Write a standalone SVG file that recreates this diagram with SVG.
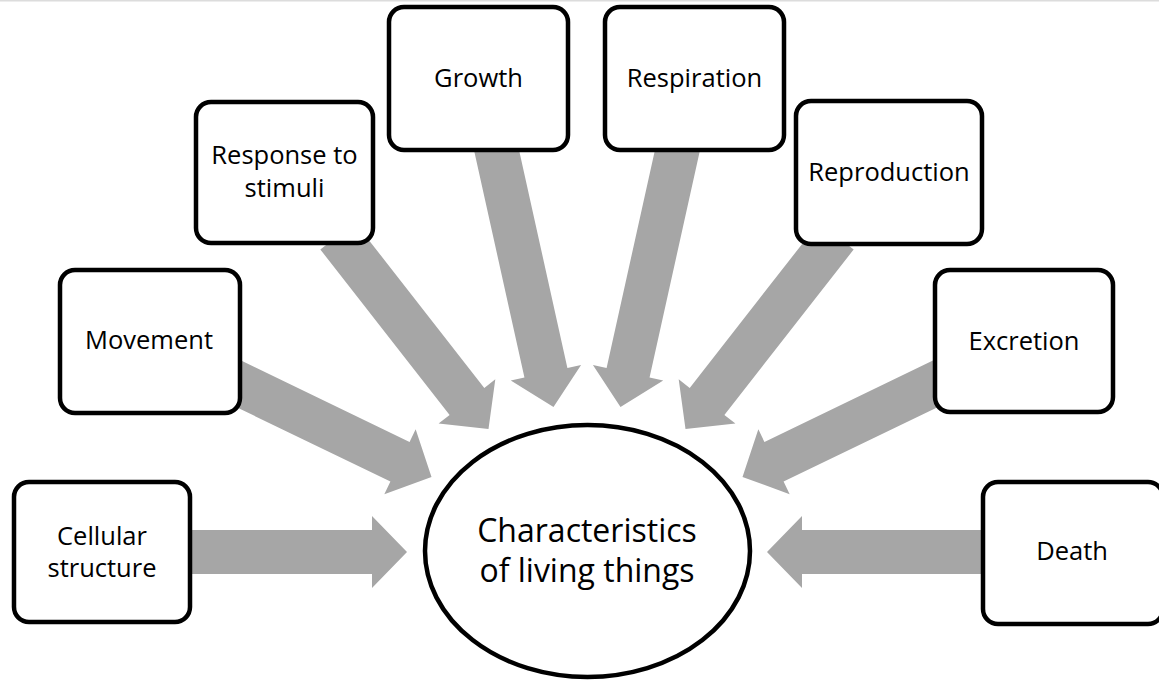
<svg xmlns="http://www.w3.org/2000/svg" width="1159" height="681" viewBox="0 0 1159 681">
<style>
.box{fill:#fff;stroke:#000;stroke-width:4.5}
.arrow{fill:#A6A6A6}
.lbl{font-family:"Open Sans","Noto Sans","Liberation Sans",sans-serif;font-size:25.5px;fill:#000;text-anchor:middle}
.ctr{font-family:"Open Sans","Noto Sans","Liberation Sans",sans-serif;font-size:32px;fill:#000;text-anchor:middle}
</style>
<defs>
<polygon id="arr" points="0,0 -35,-36 -35,-22 -270,-22 -270,22 -35,22 -35,36"/>
<polygon id="arrS" points="0,0 -35,-36 -35,-22 -225,-22 -225,22 -35,22 -35,36"/>
<polygon id="arrM" points="0,0 -35,-36 -35,-22 -245,-22 -245,22 -35,22 -35,36"/>
</defs>
<rect x="0" y="0" width="1159" height="681" fill="#fff"/>
<rect x="0" y="0" width="1159" height="1.5" fill="#dcdcdc"/>
<g id="connectors" class="arrow">
<use href="#arrS" transform="translate(407,552)"/>
<use href="#arrS" transform="translate(431.5,477) rotate(25.8)"/>
<use href="#arrM" transform="translate(488.5,429) rotate(52)"/>
<use href="#arr" transform="translate(553.5,407) rotate(77.5)"/>
<use href="#arr" transform="translate(620.5,407) rotate(102.5)"/>
<use href="#arrM" transform="translate(685.5,429) rotate(128)"/>
<use href="#arrS" transform="translate(742.5,477) rotate(154.2)"/>
<use href="#arrS" transform="translate(767,552) rotate(180)"/>
</g>
<g id="node-cellular">
<rect class="box" x="14" y="482" width="176" height="140" rx="15"/>
<text class="lbl" x="102" y="545">Cellular</text>
<text class="lbl" x="102" y="577">structure</text>
</g>
<g id="node-movement">
<rect class="box" x="60" y="270" width="180" height="143" rx="15"/>
<text class="lbl" x="149" y="349">Movement</text>
</g>
<g id="node-response">
<rect class="box" x="196" y="102" width="177" height="141" rx="15"/>
<text class="lbl" x="284.5" y="164">Response to</text>
<text class="lbl" x="284.5" y="197">stimuli</text>
</g>
<g id="node-growth">
<rect class="box" x="389" y="7" width="179" height="143" rx="15"/>
<text class="lbl" x="478.5" y="87">Growth</text>
</g>
<g id="node-respiration">
<rect class="box" x="605" y="7" width="179" height="143" rx="15"/>
<text class="lbl" x="694.5" y="87">Respiration</text>
</g>
<g id="node-reproduction">
<rect class="box" x="796" y="101" width="186" height="143" rx="15"/>
<text class="lbl" x="889" y="181">Reproduction</text>
</g>
<g id="node-excretion">
<rect class="box" x="935" y="270" width="178" height="142" rx="15"/>
<text class="lbl" x="1024" y="350">Excretion</text>
</g>
<g id="node-death">
<rect class="box" x="983" y="482" width="180" height="142" rx="15"/>
<text class="lbl" x="1072" y="560">Death</text>
</g>
<g id="node-center">
<ellipse class="box" cx="587.5" cy="551" rx="162.5" ry="126"/>
<text class="ctr" x="587" y="542">Characteristics</text>
<text class="ctr" x="587" y="582">of living things</text>
</g>
</svg>
